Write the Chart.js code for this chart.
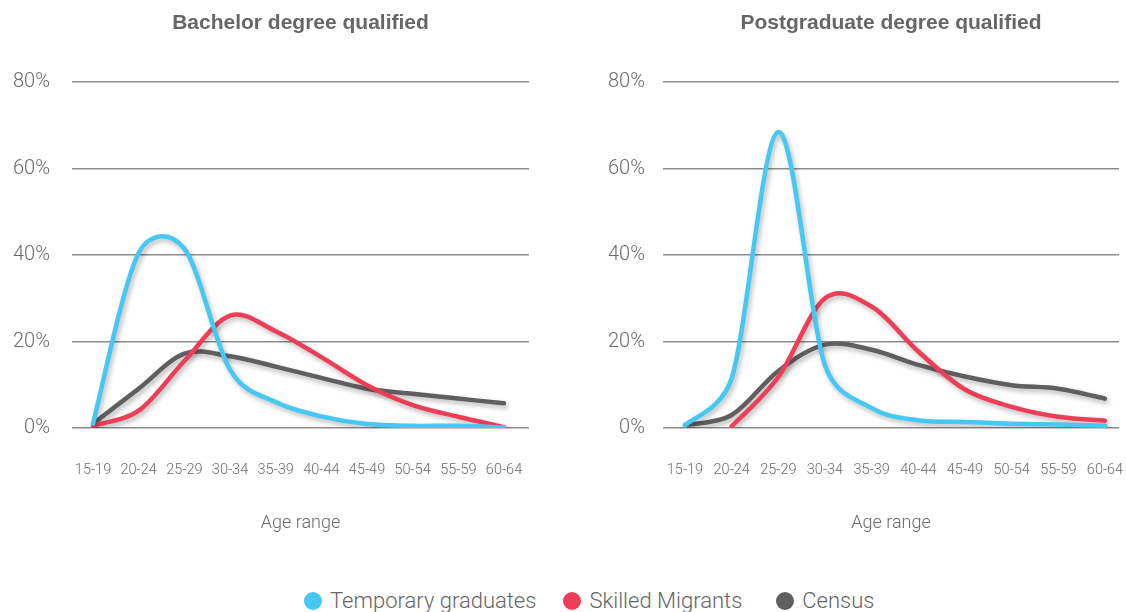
<!DOCTYPE html>
<html>
<head>
<meta charset="utf-8">
<script src="https://cdn.jsdelivr.net/npm/chart.js@4.4.1/dist/chart.umd.min.js"></script>
<style>
body { margin: 0; width: 1126px; height: 612px; overflow: hidden; background: #fff; font-family: Roboto, sans-serif; }
canvas { position: absolute; top: 0; }
#bachelor-chart { left: 0; }
#postgrad-chart { left: 563px; }
.legend { position: absolute; top: 588px; left: 304px; display: flex; align-items: center; color: #666; font-size: 22px; font-weight: 300; line-height: 26px; white-space: nowrap; }
.legend span.dot { display: inline-block; width: 18px; height: 18px; border-radius: 50%; margin-right: 8px; }
.legend .item { display: flex; align-items: center; }
</style>
</head>
<body>
<canvas id="bachelor-chart" width="563" height="560"></canvas>
<canvas id="postgrad-chart" width="563" height="560"></canvas>
<div class="legend">
  <div class="item" style="margin-right:27px"><span class="dot" style="background:#45C8F4"></span>Temporary graduates</div>
  <div class="item" style="margin-right:34px"><span class="dot" style="background:#EE3D57"></span>Skilled Migrants</div>
  <div class="item"><span class="dot" style="background:#5F5F61"></span>Census</div>
</div>
<script>
const ages = ['15-19', '20-24', '25-29', '30-34', '35-39', '40-44', '45-49', '50-54', '55-59', '60-64'];
const yTicks = [0, 20, 40, 60, 80];

// share of each group by age range (%)
const bachelorTemporary = [1, 40.5, 41.5, 13.5, 6, 2.7, 0.9, 0.5, 0.5, 0.1];
const bachelorSkilled = [0.6, 4, 15.5, 26, 22.4, 16.4, 9.9, 5.3, 2.6, 0.2];
const bachelorCensus = [1, 9.1, 17.2, 16.6, 14.2, 11.6, 9.1, 7.9, 6.8, 5.7];

const postgradTemporary = [0.6, 11.5, 68.5, 14.5, 4.6, 1.8, 1.4, 1.0, 0.8, 0.5];
const postgradSkilled = [null, 0.4, 11.8, 30, 28.1, 17.7, 8.9, 4.9, 2.6, 1.7];
const postgradCensus = [0.7, 3, 13.2, 19.3, 18.1, 14.6, 11.9, 9.9, 9.1, 6.8];

const seriesNames = ['Temporary graduates', 'Skilled Migrants', 'Census'];
const seriesColors = ['#45C8F4', '#EE3D57', '#5F5F61'];

const textColor = '#6b6b6b';
const lightFont = 'Roboto';

// spreadsheet style smoothing: tangent along p(i+1)-p(i-1), a sixth of
// that span long, each arm capped at half of its own segment
const smoothLines = {
  id: 'smoothLines',
  beforeDatasetDraw(chart, args) {
    const meta = args.meta;
    const pts = meta.data.filter(p => !p.skip);
    pts.forEach((p, i) => {
      const a = pts[i - 1] || p;
      const b = pts[i + 1] || p;
      const tx = b.x - a.x, ty = b.y - a.y;
      const span = Math.hypot(tx, ty) || 1;
      const base = span / 6;
      const inLen = i > 0 ? Math.min(base, Math.hypot(p.x - a.x, p.y - a.y) / 2) : base;
      const outLen = i < pts.length - 1 ? Math.min(base, Math.hypot(b.x - p.x, b.y - p.y) / 2) : base;
      p.cp1x = p.x - tx / span * inLen; p.cp1y = p.y - ty / span * inLen;
      p.cp2x = p.x + tx / span * outLen; p.cp2y = p.y + ty / span * outLen;
    });
    meta.dataset._pointsUpdated = true;
  }
};

const lineShadow = {
  id: 'lineShadow',
  beforeDatasetDraw(chart) {
    const c = chart.ctx;
    c.save();
    c.shadowColor = 'rgba(0, 0, 0, 0.28)';
    c.shadowBlur = 5;
    c.shadowOffsetX = 2;
    c.shadowOffsetY = 3;
  },
  afterDatasetDraw(chart) {
    chart.ctx.restore();
  }
};

const makePanel = (id, title, series, xMin, xMax, yWidth, yPad, padRight) => {
  const datasets = series.map((values, i) => ({
    label: seriesNames[i],
    data: values.map((v, k) => ({x: k, y: v})),
    borderColor: seriesColors[i],
    backgroundColor: seriesColors[i],
    borderWidth: 4.5,
    borderCapStyle: 'round',
    borderJoinStyle: 'round',
    pointRadius: 0,
    tension: 0.4,
    fill: false
  }));

  return new Chart(document.getElementById(id), {
    type: 'line',
    data: {datasets: datasets},
    plugins: [smoothLines, lineShadow],
    options: {
      responsive: false,
      animation: false,
      layout: {padding: {left: 0, right: padRight, top: 0, bottom: 26}},
      plugins: {
        legend: {display: false},
        tooltip: {enabled: false},
        title: {
          display: true,
          text: title,
          fullSize: false,
          color: '#666',
          font: {family: 'Liberation Sans', size: 21, weight: 'bold'},
          padding: {top: 11, bottom: 46}
        }
      },
      scales: {
        x: {
          type: 'linear',
          min: xMin,
          max: xMax,
          grid: {display: true, drawOnChartArea: false, drawTicks: true, tickLength: 34, tickColor: 'rgba(0,0,0,0)'},
          border: {display: false},
          ticks: {
            stepSize: 1,
            autoSkip: false,
            includeBounds: false,
            maxRotation: 0,
            padding: 0,
            color: textColor,
            font: {family: lightFont, size: 14.5, weight: 300},
            callback: (v) => ages[v] ?? ''
          },
          title: {
            display: true,
            text: 'Age range',
            color: textColor,
            font: {family: lightFont, size: 18, weight: 300},
            padding: {top: 33, bottom: 0}
          }
        },
        y: {
          min: yTicks[0],
          max: yTicks[yTicks.length - 1],
          grid: {color: '#8c8c8c', lineWidth: 1.5, drawTicks: false},
          border: {display: false},
          ticks: {
            stepSize: 20,
            padding: yPad,
            color: textColor,
            font: {family: lightFont, size: 20, weight: 300},
            callback: (v) => v + '%'
          },
          afterFit: (scale) => { scale.width = yWidth; }
        }
      }
    }
  });
};

makePanel('bachelor-chart', 'Bachelor degree qualified',
  [bachelorTemporary, bachelorSkilled, bachelorCensus], -0.46, 9.547, 72, 22, 34);
makePanel('postgrad-chart', 'Postgraduate degree qualified',
  [postgradTemporary, postgradSkilled, postgradCensus], -0.471, 9.3, 100, 18, 7);
</script>
</body>
</html>
